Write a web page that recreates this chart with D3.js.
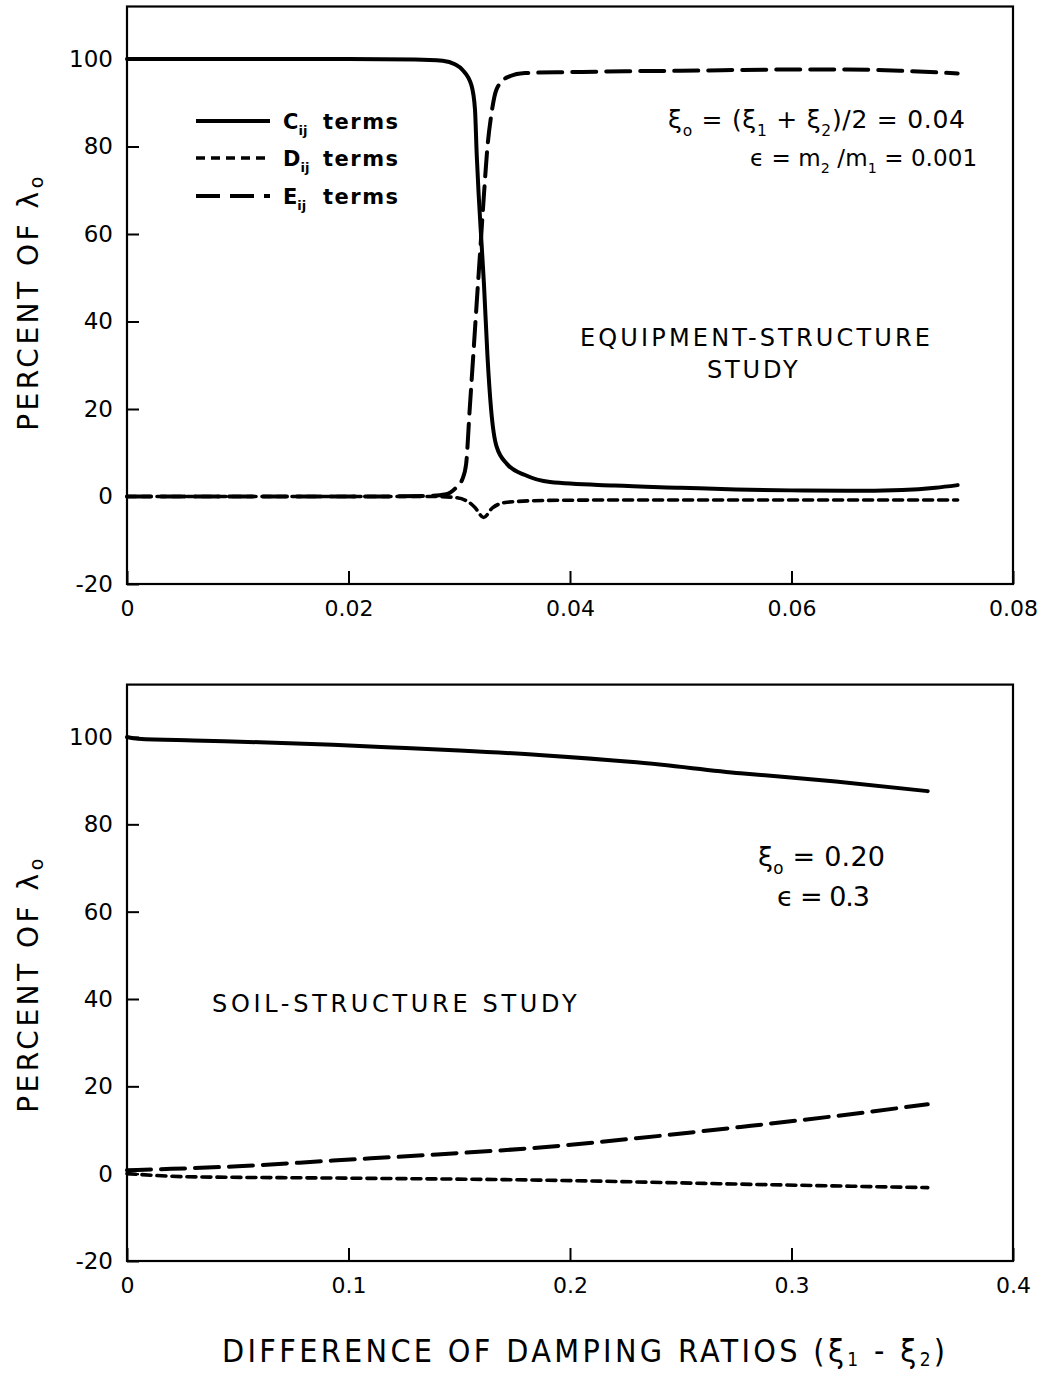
<!DOCTYPE html>
<html><head><meta charset="utf-8">
<script src="https://cdn.jsdelivr.net/npm/d3@7"></script>
<style>
body{margin:0;background:#fff}
svg{display:block}
text{font-family:"DejaVu Sans",sans-serif;fill:#000}
</style>
</head><body>
<svg id="c" width="1053" height="1374"></svg>
<script>
// ---------- tick labels ----------
const topXTicks = [0, 0.02, 0.04, 0.06, 0.08];
const topXTickLabels = ["0", "0.02", "0.04", "0.06", "0.08"];
const botXTicks = [0, 0.1, 0.2, 0.3, 0.4];
const botXTickLabels = ["0", "0.1", "0.2", "0.3", "0.4"];
const yTicks = [-20, 0, 20, 40, 60, 80, 100];
const yTickLabels = ["-20", "0", "20", "40", "60", "80", "100"];

// ---------- top panel: equipment-structure study ----------
const topC_x = [0, 0.01, 0.02, 0.026, 0.0285, 0.0296, 0.0303, 0.0311, 0.03142, 0.03158, 0.03174, 0.0320, 0.03223, 0.03255, 0.03288, 0.03336, 0.03432, 0.03594, 0.0382, 0.044, 0.05, 0.055, 0.06, 0.065, 0.07, 0.073, 0.075];
const topC_y = [100, 100, 100, 99.9, 99.6, 98.8, 97.5, 94, 88.5, 78, 69.6, 58.4, 48.6, 32, 19.8, 11.5, 7.4, 4.9, 3.3, 2.5, 2.0, 1.6, 1.4, 1.3, 1.5, 2.0, 2.6];
const topD_x = [0, 0.01, 0.02, 0.028, 0.0298, 0.0308, 0.03142, 0.0322, 0.0330, 0.03432, 0.0379, 0.045, 0.05, 0.06, 0.07, 0.075];
const topD_y = [0, 0, 0, 0, -0.3, -1.2, -2.5, -4.8, -2.6, -1.3, -0.9, -0.8, -0.8, -0.8, -0.8, -0.8];
const topE_x = [0, 0.01, 0.02, 0.027, 0.0288, 0.0297, 0.03029, 0.03062, 0.03094, 0.03126, 0.03158, 0.03191, 0.03223, 0.03255, 0.03288, 0.03336, 0.03432, 0.03594, 0.04, 0.045, 0.05, 0.06, 0.065, 0.07, 0.075];
const topE_y = [0, 0, 0, 0.1, 0.5, 2, 4, 7.4, 19.8, 32, 44.4, 56.8, 69, 80, 87, 93, 95.8, 96.8, 97.0, 97.2, 97.3, 97.6, 97.6, 97.3, 96.7];

// ---------- bottom panel: soil-structure study ----------
const botC_x = [0, 0.005, 0.03, 0.06, 0.093, 0.12, 0.15, 0.186, 0.23, 0.277, 0.32, 0.3615];
const botC_y = [100, 99.6, 99.2, 98.8, 98.2, 97.6, 96.9, 95.9, 94.2, 91.7, 89.8, 87.6];
const botD_x = [0, 0.027, 0.093, 0.19, 0.277, 0.3615];
const botD_y = [0, -0.7, -1.0, -1.5, -2.4, -3.2];
const botE_x = [0, 0.02, 0.05, 0.093, 0.14, 0.1865, 0.23, 0.277, 0.32, 0.3615];
const botE_y = [0.8, 1.1, 1.7, 3.0, 4.4, 6.0, 8.1, 10.7, 13.2, 15.9];

const svg = d3.select("#c");
const styles = {
  C: {dash: null, w: 4},
  D: {dash: "9,6", w: 3.6},
  E: {dash: "24,10", w: 4}
};

function fitWidth(sel, target) {
  const node = sel.node();
  const w = node.getBBox().width;
  const n = node.textContent.length;
  if (n > 1) sel.style("letter-spacing", ((target - w) / (n - 1)).toFixed(2) + "px");
}

// parts: array of strings or [string, isSub]
function richText(g, x, y, parts, size, opts = {}) {
  const t = g.append("text").attr("x", x).attr("y", y).attr("font-size", size);
  if (opts.weight) t.attr("font-weight", opts.weight);
  let sub = false;
  parts.forEach(p => {
    const s = typeof p === "string" ? [p, false] : p;
    const ts = t.append("tspan").text(s[0]);
    if (s[1] && !sub) { ts.attr("dy", size * 0.3).attr("font-size", size * 0.62); sub = true; }
    else if (s[1] && sub) { ts.attr("font-size", size * 0.62); }
    else if (!s[1] && sub) { ts.attr("dy", -size * 0.3); sub = false; }
  });
  if (opts.width) fitWidth(t, opts.width);
  return t;
}

function panel(cfg) {
  const x = d3.scaleLinear().domain(cfg.xDomain).range([127, 1013]);
  const y = d3.scaleLinear().domain([-20, 112]).range([cfg.yBottom, cfg.yTop]);
  const g = svg.append("g");

  const yAxis = d3.axisLeft(y).tickValues(yTicks).tickFormat((d, i) => yTickLabels[i])
    .tickSize(-12).tickPadding(14);
  const ga = g.append("g").attr("transform", "translate(127,0)").call(yAxis);
  ga.select(".domain").remove();
  ga.selectAll("line").attr("stroke-width", 2);
  ga.selectAll("text").attr("font-size", 23).style("font-family", "DejaVu Sans");

  const xAxis = d3.axisBottom(x).tickValues(cfg.xTicks).tickFormat((d, i) => cfg.xTickLabels[i])
    .tickSize(-13).tickPadding(16);
  const gx = g.append("g").attr("transform", `translate(0,${cfg.yBottom})`).call(xAxis);
  gx.select(".domain").remove();
  gx.selectAll("line").attr("stroke-width", 2);
  gx.selectAll("text").attr("font-size", 22).style("font-family", "DejaVu Sans");

  g.append("rect").attr("x", 127).attr("y", y(112)).attr("width", 1013 - 127)
    .attr("height", y(-20) - y(112)).attr("fill", "none").attr("stroke", "#000").attr("stroke-width", 2.2);

  const line = d3.line().x(d => x(d[0])).y(d => y(d[1])).curve(d3.curveMonotoneX);
  cfg.series.forEach(s => {
    const st = styles[s.key];
    g.append("path").datum(d3.zip(s.x, s.y)).attr("d", line)
      .attr("fill", "none").attr("stroke", "#000").attr("stroke-width", st.w)
      .attr("stroke-linecap", "round").attr("stroke-linejoin", "round")
      .attr("stroke-dasharray", st.dash);
  });

  // y title
  const yt = g.append("text").attr("transform", `translate(38,${cfg.titleY}) rotate(-90)`)
    .attr("text-anchor", "middle").attr("font-size", 28);
  yt.append("tspan").text("PERCENT OF λ");
  yt.append("tspan").attr("dy", 5).attr("font-size", 19).text("o");
  yt.style("letter-spacing", "3.5px");
  return g;
}

const gTop = panel({
  xDomain: [0, 0.08], yTop: 6.5, yBottom: 584, xTicks: topXTicks, xTickLabels: topXTickLabels,
  titleY: 302,
  series: [
    {key: "D", x: topD_x, y: topD_y},
    {key: "E", x: topE_x, y: topE_y},
    {key: "C", x: topC_x, y: topC_y}
  ]
});

// legend
const legendItems = [["C", "C"], ["D", "D"], ["E", "E"]];
const legendY = [121, 158, 196];
legendItems.forEach((it, i) => {
  const st = styles[it[0]];
  gTop.append("line").attr("x1", 196).attr("x2", 270).attr("y1", legendY[i]).attr("y2", legendY[i])
    .attr("stroke", "#000").attr("stroke-width", st.w).attr("stroke-dasharray", st.dash);
  const t = gTop.append("text").attr("x", 283).attr("y", legendY[i] + 8).attr("font-size", 21).attr("font-weight", "bold");
  t.append("tspan").text(it[1]);
  t.append("tspan").attr("dy", 6).attr("font-size", 13).text("ij");
  t.append("tspan").attr("x", 323).attr("dy", -6).text("terms").style("letter-spacing", "1.5px");
});

richText(gTop, 668, 128, ["ξ", ["o", true], " = (ξ", ["1", true], " + ξ", ["2", true], ")/2 = 0.04"], 25, {width: 297});
richText(gTop, 750, 166, ["ϵ = m", ["2", true], " /m", ["1", true], " = 0.001"], 23, {width: 227});
richText(gTop, 580, 346, ["EQUIPMENT-STRUCTURE"], 24, {width: 350});
richText(gTop, 707, 378, ["STUDY"], 24, {width: 91});

const gBot = panel({
  xDomain: [0, 0.4], yTop: 684.6, yBottom: 1261, xTicks: botXTicks, xTickLabels: botXTickLabels,
  titleY: 984,
  series: [
    {key: "D", x: botD_x, y: botD_y},
    {key: "E", x: botE_x, y: botE_y},
    {key: "C", x: botC_x, y: botC_y}
  ]
});
richText(gBot, 758, 866, ["ξ", ["o", true], " = 0.20"], 27, {width: 127});
richText(gBot, 777, 906, ["ϵ = 0.3"], 27, {width: 93});
richText(gBot, 212, 1012, ["SOIL-STRUCTURE STUDY"], 24, {width: 365});

// x title
const xt = svg.append("text").attr("x", 222).attr("y", 1362).attr("font-size", 32)
  .style("font-family", "'DejaVu Sans Condensed','DejaVu Sans',sans-serif");
xt.append("tspan").text("DIFFERENCE OF DAMPING RATIOS (ξ");
xt.append("tspan").attr("dy", 4).attr("font-size", 19).text("1");
xt.append("tspan").attr("dy", -4).text(" - ξ");
xt.append("tspan").attr("dy", 4).attr("font-size", 19).text("2");
xt.append("tspan").attr("dy", -4).text(")");
fitWidth(xt, 723);
</script>
</body></html>
